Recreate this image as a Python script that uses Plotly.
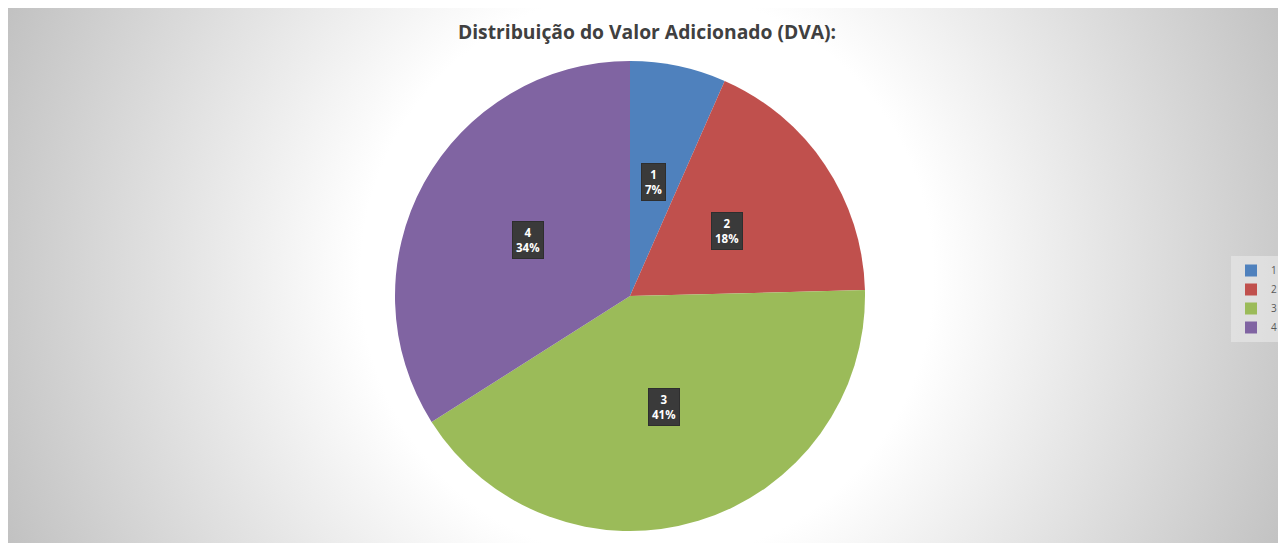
import math
import urllib.parse
import plotly.graph_objects as go

# ---- data ----
categories = ["1", "2", "3", "4"]
values = [6.6, 18.0, 41.4, 34.0]
colors = ["#4F81BD", "#C0504D", "#9BBB59", "#8064A2"]
title_text = "Distribuição do Valor Adicionado (DVA):"

# figure size (page body adds an 8px margin at top/left)
W, H = 1278, 535

svg = (
    f'<svg xmlns="http://www.w3.org/2000/svg" width="{W}" height="{H}" viewBox="0 0 {W} {H}">'
    f'<defs><radialGradient id="g" gradientUnits="userSpaceOnUse" cx="{W/2}" cy="{H/2}" r="{W*0.56}">'
    '<stop offset="0" stop-color="#ffffff"/><stop offset="0.40" stop-color="#ffffff"/>'
    '<stop offset="1" stop-color="#bebebe"/></radialGradient></defs>'
    f'<rect x="0" y="0" width="{W}" height="{H}" fill="url(#g)"/></svg>'
)
bg_src = "data:image/svg+xml;charset=utf-8," + urllib.parse.quote(svg)

# pie geometry (pixels, figure coordinates)
cx, cy, R = 622, 288, 235
dom_x = [(cx - R) / W, (cx + R) / W]
dom_y = [1 - (cy + R) / H, 1 - (cy - R) / H]

fig = go.Figure()
fig.add_trace(go.Pie(
    labels=categories,
    values=values,
    marker=dict(colors=colors, line=dict(width=0)),
    sort=False,
    direction="clockwise",
    rotation=0,
    textinfo="none",
    hoverinfo="label+percent",
    domain=dict(x=dom_x, y=dom_y),
))

# data labels with dark boxes, placed at mid-angle of each slice
total = sum(values)
cum = 0.0
annotations = []
for lab, v in zip(categories, values):
    mid = (cum + v / 2) / total * 2 * math.pi
    cum += v
    px = cx + 0.495 * R * math.sin(mid)
    py = cy - 0.495 * R * math.cos(mid)
    pct = round(v / total * 100)
    annotations.append(dict(
        x=px / W, y=1 - py / H, xref="paper", yref="paper",
        text=f"<b>{lab}</b><br><b>{pct}%</b>",
        showarrow=False,
        font=dict(family="Open Sans, sans-serif", size=11.5, color="#ffffff"),
        bgcolor="#3a3a3a",
        bordercolor="#2e2e2e",
        borderwidth=1,
        borderpad=3,
        xanchor="center", yanchor="middle",
    ))

fig.update_layout(
    width=W, height=H,
    margin=dict(l=0, r=0, t=0, b=0, autoexpand=False),
    paper_bgcolor="#ffffff",
    plot_bgcolor="rgba(0,0,0,0)",
    title=dict(
        text=f"<b>{title_text}</b>",
        x=0.5, xanchor="center",
        y=1 - 24 / H, yanchor="middle",
        font=dict(family="Open Sans, sans-serif", size=19.3, color="#404040"),
    ),
    images=[dict(
        source=bg_src, xref="paper", yref="paper",
        x=0, y=1, sizex=1, sizey=1,
        xanchor="left", yanchor="top", sizing="stretch", layer="below",
    )],
    annotations=annotations,
    legend=dict(
        x=1 - 4 / W, y=1 - 248 / H, xanchor="right", yanchor="top",
        bgcolor="rgba(228,228,228,0.75)",
        font=dict(family="Open Sans, sans-serif", size=10, color="#595959"),
        itemwidth=30,
        traceorder="normal",
    ),
    showlegend=True,
)

fig.write_html("out.html")
